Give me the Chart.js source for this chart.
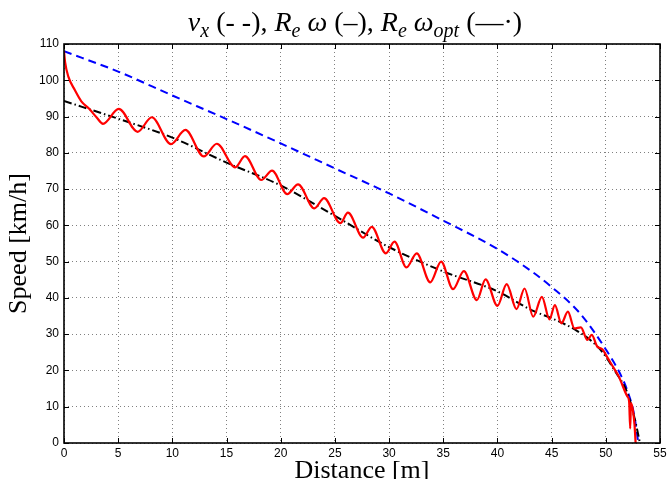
<!DOCTYPE html>
<html><head><meta charset="utf-8">
<script src="https://cdn.jsdelivr.net/npm/chart.js@4/dist/chart.umd.min.js"></script>
<style>html,body{margin:0;padding:0;background:#fff}canvas{display:block}</style>
</head><body>
<canvas id="c" width="671" height="479"></canvas>
<script>
// ---- data ----
const xAxisTitle = 'Distance [m]';
const yAxisTitle = 'Speed [km/h]';

// v_x (blue, dashed)
const blueX = [0, 5, 10, 15, 20, 25, 30, 35, 40, 43.3, 45, 47.6, 50, 51.45, 52, 52.6, 53.0];
const blueY = [108, 102.4, 95.8, 89.3, 82.6, 75.7, 68.8, 61.3, 53.5, 47.0, 43.0, 35.8, 25.8, 18.3, 14.3, 8.0, 0];

// R_e omega (red, solid)
const redX = [0, 0.1, 0.4, 1.0, 1.6, 2.3, 3.0, 3.6, 5.05, 6.8, 8.1, 9.87, 11.2, 12.9, 14.1, 15.8, 16.7, 18.2, 19.2, 20.6,
  21.6, 23.1, 24.0, 25.5, 26.2, 27.6, 28.4, 29.7, 30.5, 31.6, 32.55, 33.8, 34.8, 35.9, 36.9, 38.1, 38.9, 40.0, 40.85, 41.76,
  42.5, 43.3, 44.1, 44.8, 45.3, 45.9, 46.5, 47.1, 47.7, 48.3, 48.7, 49.2, 49.7, 50.1, 50.85, 51.2, 52.0, 52.15, 52.25, 52.32,
  52.5, 52.65, 52.75];
const redY = [108, 105, 101, 97.3, 94.2, 92.2, 89.8, 88, 92.1, 85.8, 89.8, 82.4, 86.3, 79, 82.5, 76, 79.1, 72.5, 75.1, 68.6,
  71.3, 64.7, 67.5, 60.6, 63.5, 56.6, 59.6, 52.3, 55.5, 48.4, 52.3, 44.3, 50.0, 42.4, 47.4, 39.4, 45.1, 37.8, 43.8, 36.9,
  42.6, 34.8, 40.3, 34.1, 38.0, 33.0, 36.2, 31.6, 31.9, 28.4, 29.8, 26.6, 25.8, 23.8, 20.1, 18.3, 12.8, 11.5, 4.0, 11.0,
  9.0, 5.0, 0];

// R_e omega_opt (black, dash-dot)
const blackX = [0, 5, 10, 15, 20, 25, 30, 35, 40, 43.3, 45, 47.3, 49.1, 50, 50.85, 52, 52.7, 53.15];
const blackY = [94.3, 89.4, 84.2, 77.3, 71.0, 62.6, 54.0, 47.3, 41.8, 36.4, 34.4, 31.0, 27.0, 23.8, 19.8, 13.7, 6.3, 0];

const xMin = 0, xMax = 55, xStep = 5;
const yMin = 0, yMax = 110, yStep = 10;

const toXY = (xs, ys) => xs.map((x, i) => ({ x: x, y: ys[i] }));

// ---- title with math-style subscripts ----
const titleParts = [
  { t: 'v', it: true }, { t: 'x', it: true, sub: true },
  { t: ' (- -), ' },
  { t: 'R', it: true }, { t: 'e', it: true, sub: true }, { t: ' ' }, { t: '\u03C9', it: true },
  { t: ' (\u2013), ' },
  { t: 'R', it: true }, { t: 'e', it: true, sub: true }, { t: ' ' }, { t: '\u03C9', it: true }, { t: 'opt', it: true, sub: true },
  { t: ' (\u2014\u00B7)' }
];

const titlePlugin = {
  id: 'mathTitle',
  afterDraw(chart) {
    const ctx = chart.ctx;
    const fam = '"Liberation Serif", "DejaVu Serif", serif';
    const fontFor = (p, size) => (p.it ? 'italic ' : '') + (p.sub ? Math.round(size * 0.7) : size) + 'px ' + fam;
    const measure = (size) => titleParts.reduce((w, p) => { ctx.font = fontFor(p, size); return w + ctx.measureText(p.t).width; }, 0);
    ctx.save();
    let size = 23;
    const targetW = 333;
    size = size * targetW / measure(size);
    const total = measure(size);
    let x = 355 - total / 2;
    const base = 31;
    ctx.fillStyle = '#000';
    ctx.textBaseline = 'alphabetic';
    ctx.textAlign = 'left';
    titleParts.forEach(p => {
      ctx.font = fontFor(p, size);
      ctx.fillText(p.t, x, p.sub ? base + size * 0.2 : base);
      x += ctx.measureText(p.t).width;
    });
    ctx.restore();
  }
};

// ---- box frame with inward ticks (MATLAB style) ----
const framePlugin = {
  id: 'frame',
  afterDatasetsDraw(chart) {
    const { ctx, chartArea: a, scales } = chart;
    const xs = scales.x, ys = scales.y;
    ctx.save();
    ctx.strokeStyle = '#000';
    ctx.lineWidth = 1;
    const L = 5;
    const seg = (x1, y1, x2, y2) => { ctx.beginPath(); ctx.moveTo(x1, y1); ctx.lineTo(x2, y2); ctx.stroke(); };
    xs.ticks.forEach(t => {
      const px = Math.round(xs.getPixelForValue(t.value)) + 0.5;
      seg(px, a.bottom, px, a.bottom - L);
      seg(px, a.top, px, a.top + L);
    });
    ys.ticks.forEach(t => {
      const py = Math.round(ys.getPixelForValue(t.value)) + 0.5;
      seg(a.left, py, a.left + L, py);
      seg(a.right, py, a.right - L, py);
    });
    ctx.lineWidth = 1.6;
    ctx.strokeRect(a.left, a.top, a.right - a.left, a.bottom - a.top);
    ctx.restore();
  }
};

const tickFont = { family: '"Liberation Sans", Arial, sans-serif', size: 12 };
const axisTitleFont = { family: '"Liberation Serif", "DejaVu Serif", serif', size: 26, lineHeight: 1 };

new Chart(document.getElementById('c'), {
  type: 'line',
  data: {
    datasets: [
      { label: 'R_e omega', data: toXY(redX, redY), borderColor: '#ff0000', borderWidth: 2.2,
        pointRadius: 0, cubicInterpolationMode: 'monotone', fill: false },
      { label: 'R_e omega_opt', data: toXY(blackX, blackY), borderColor: '#000000', borderWidth: 2,
        borderDash: [8, 3, 1.5, 3], pointRadius: 0, cubicInterpolationMode: 'monotone', fill: false },
      { label: 'v_x', data: toXY(blueX, blueY), borderColor: '#0000ff', borderWidth: 2,
        borderDash: [8, 5], pointRadius: 0, cubicInterpolationMode: 'monotone', fill: false }
    ]
  },
  options: {
    responsive: false,
    animation: false,
    devicePixelRatio: 1,
    layout: { padding: { top: 44, right: 11, left: 0, bottom: 0 } },
    plugins: { legend: { display: false }, title: { display: false }, tooltip: { enabled: false } },
    scales: {
      x: {
        type: 'linear', min: xMin, max: xMax,
        afterFit: s => { s.height = 36; },
        ticks: { stepSize: xStep, color: '#000', font: tickFont, padding: 3, maxRotation: 0 },
        grid: { color: '#808080', lineWidth: 1, drawTicks: false, borderDash: [1, 3] },
        border: { display: false, dash: [1, 3] },
        title: { display: true, text: xAxisTitle, color: '#000', font: axisTitleFont, padding: { top: 0, bottom: -5 } }
      },
      y: {
        type: 'linear', min: yMin, max: yMax,
        afterFit: s => { s.width = 64; },
        ticks: { stepSize: yStep, color: '#000', font: tickFont, padding: 5 },
        grid: { color: '#808080', lineWidth: 1, drawTicks: false, borderDash: [1, 3] },
        border: { display: false, dash: [1, 3] },
        title: { display: true, text: yAxisTitle, color: '#000', font: axisTitleFont, padding: { top: 6, bottom: 0 } }
      }
    }
  },
  plugins: [framePlugin, titlePlugin]
});
</script>
</body></html>
